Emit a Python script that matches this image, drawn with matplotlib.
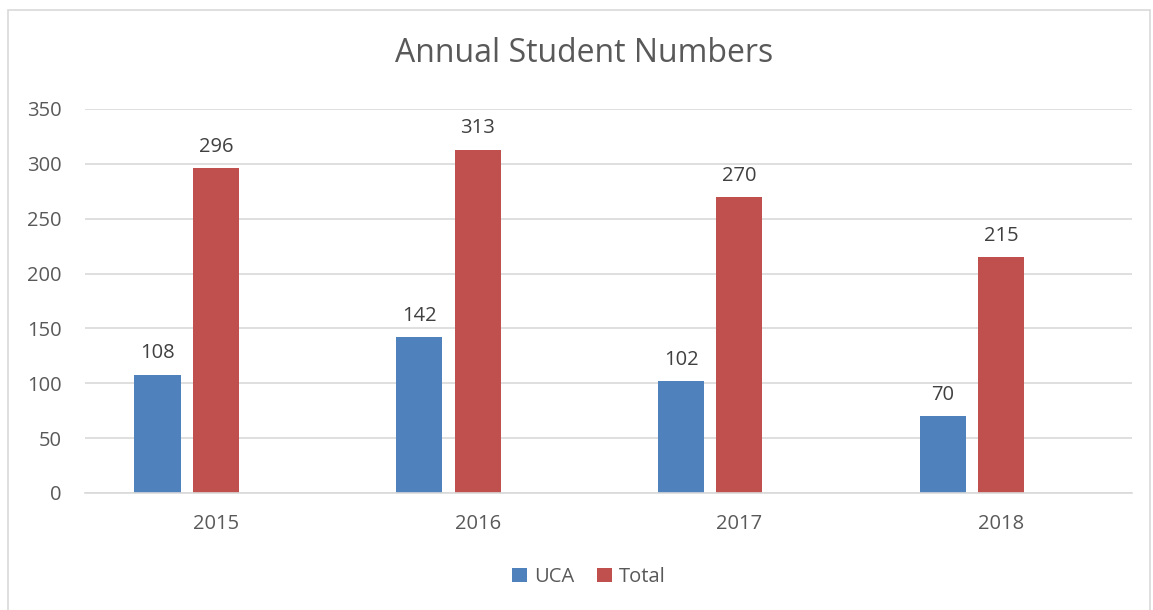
import matplotlib.pyplot as plt
import numpy as np
from matplotlib.patches import Rectangle

plt.rcParams['font.family'] = ['Open Sans', 'DejaVu Sans']

years = ['2015', '2016', '2017', '2018']
uca = [108, 142, 102, 70]
total = [296, 313, 270, 215]

blue = '#4F81BD'
red = '#C0504D'
grey_txt = '#595959'

fig = plt.figure(figsize=(11.53, 6.10), dpi=100)
W, H = 1153, 610
ax = fig.add_axes([85 / W, (H - 493) / H, (1132 - 85) / W, (493 - 109) / H])

# chart border
fig.patches.append(Rectangle((8 / W, -0.01), (1150 - 8) / W, 1 - 10 / H + 0.01,
                             transform=fig.transFigure, fill=False,
                             edgecolor='#D9D9D9', linewidth=1.2))

x = np.arange(len(years))
bw = 0.176
off = 0.223
b1 = ax.bar(x - off, uca, bw, color=blue, label='UCA')
b2 = ax.bar(x, total, bw, color=red, label='Total')

for bars, vals in [(b1, uca), (b2, total)]:
    for r, v in zip(bars, vals):
        ax.annotate(str(v), (r.get_x() + r.get_width() / 2, v),
                    xytext=(0, 8), textcoords='offset points',
                    ha='center', va='bottom', fontsize=14.5, color='#404040')

ax.set_xlim(-0.5, 3.5)
ax.set_ylim(0, 350)
ax.set_yticks(range(0, 351, 50))
ax.set_xticks(x)
ax.set_xticklabels(years)
ax.yaxis.grid(True, color='#D9D9D9', linewidth=1.2)
ax.set_axisbelow(True)
for s in ['top', 'right', 'left']:
    ax.spines[s].set_visible(False)
ax.spines['bottom'].set_color('#D9D9D9')
ax.spines['bottom'].set_linewidth(1.2)
ax.tick_params(axis='both', length=0, labelsize=14.5, colors=grey_txt)
ax.tick_params(axis='y', pad=17)
ax.tick_params(axis='x', pad=15)

fig.text((394 + 775) / 2 / W, 1 - 53 / H, 'Annual Student Numbers',
         ha='center', va='center', fontsize=23, color=grey_txt)

leg = fig.legend(handles=[b1, b2], loc='center', bbox_to_anchor=(589 / W, 1 - 577 / H),
                 ncol=2, frameon=False, fontsize=14.5, handlelength=0.75, handleheight=0.75,
                 columnspacing=1.1, handletextpad=0.35)
for t in leg.get_texts():
    t.set_color(grey_txt)

fig.savefig('out.png', dpi=100)
